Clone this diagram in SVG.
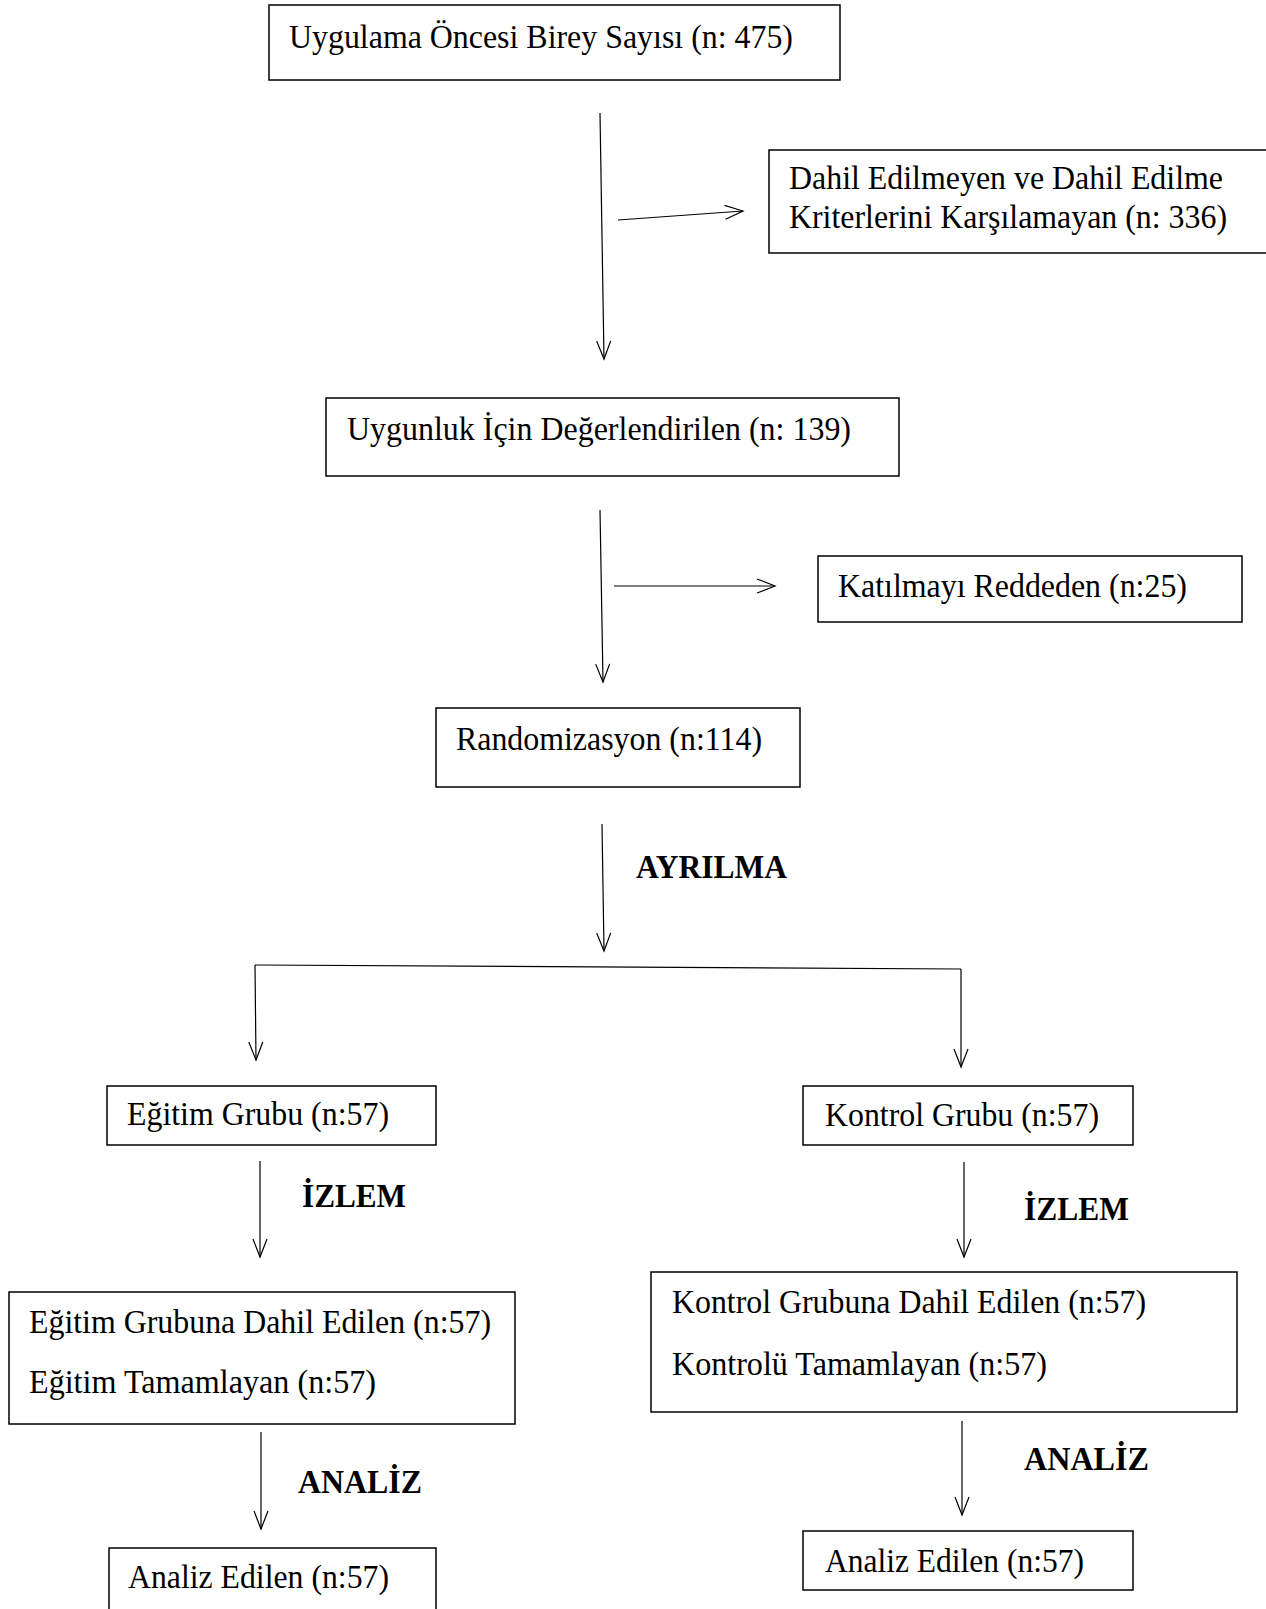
<svg xmlns="http://www.w3.org/2000/svg" width="1266" height="1609" viewBox="0 0 1266 1609">
  <style>
    .box { fill: #fff; stroke: #000; stroke-width: 1.5; }
    .t { font-family: "Liberation Serif", "Times New Roman", serif; font-size: 33px; fill: #000; }
    .b { font-family: "Liberation Serif", "Times New Roman", serif; font-size: 33px; font-weight: bold; fill: #000; }
    .ln { fill: none; stroke: #000; stroke-width: 1.2; }
  </style>
  <defs>
    <!-- open chevron head used on every connector -->
    <marker id="arr" markerUnits="userSpaceOnUse" markerWidth="40" markerHeight="40" refX="0" refY="0" viewBox="-20 -20 40 40" orient="auto" overflow="visible">
      <path d="M -18 -7 L 0 0 L -18 7" fill="none" stroke="#000" stroke-width="1.2"/>
    </marker>
  </defs>

  <rect width="1266" height="1609" fill="#fff"/>

  <!-- connectors and their stage labels -->
  <g id="connectors">
    <line class="ln" x1="600" y1="113" x2="604" y2="359" marker-end="url(#arr)"/>
    <line class="ln" x1="618" y1="220" x2="743" y2="211" marker-end="url(#arr)"/>
    <line class="ln" x1="600" y1="510" x2="603" y2="682" marker-end="url(#arr)"/>
    <line class="ln" x1="614" y1="586" x2="775" y2="586" marker-end="url(#arr)"/>
    <line class="ln" x1="602" y1="824" x2="604" y2="951" marker-end="url(#arr)"/>
    <path class="ln" d="M 255 965 L 961 969"/>
    <line class="ln" x1="255" y1="965" x2="256" y2="1060" marker-end="url(#arr)"/>
    <line class="ln" x1="961" y1="969" x2="961" y2="1067" marker-end="url(#arr)"/>
    <line class="ln" x1="260" y1="1161" x2="260" y2="1257" marker-end="url(#arr)"/>
    <line class="ln" x1="964" y1="1162" x2="964" y2="1257" marker-end="url(#arr)"/>
    <line class="ln" x1="261" y1="1432" x2="261" y2="1529" marker-end="url(#arr)"/>
    <line class="ln" x1="962" y1="1421" x2="962" y2="1515" marker-end="url(#arr)"/>
    <text class="b" x="636" y="878" textLength="151" lengthAdjust="spacingAndGlyphs">AYRILMA</text>
    <text class="b" x="302" y="1207" textLength="104" lengthAdjust="spacingAndGlyphs">İZLEM</text>
    <text class="b" x="1024" y="1220" textLength="105" lengthAdjust="spacingAndGlyphs">İZLEM</text>
    <text class="b" x="298" y="1493" textLength="124" lengthAdjust="spacingAndGlyphs">ANALİZ</text>
    <text class="b" x="1024" y="1470" textLength="125" lengthAdjust="spacingAndGlyphs">ANALİZ</text>
  </g>

  <g id="n-pre">
    <rect class="box" x="269" y="5" width="571" height="75"/>
    <text class="t" x="289" y="48" textLength="504" lengthAdjust="spacingAndGlyphs">Uygulama Öncesi Birey Sayısı (n: 475)</text>
  </g>
  <g id="n-excluded">
    <rect class="box" x="769" y="150" width="500" height="103"/>
    <text class="t" x="789" y="189" textLength="434" lengthAdjust="spacingAndGlyphs">Dahil Edilmeyen ve Dahil Edilme</text>
    <text class="t" x="789" y="228" textLength="438" lengthAdjust="spacingAndGlyphs">Kriterlerini Karşılamayan (n: 336)</text>
  </g>
  <g id="n-eligible">
    <rect class="box" x="326" y="398" width="573" height="78"/>
    <text class="t" x="347" y="440" textLength="504" lengthAdjust="spacingAndGlyphs">Uygunluk İçin Değerlendirilen (n: 139)</text>
  </g>
  <g id="n-declined">
    <rect class="box" x="818" y="556" width="424" height="66"/>
    <text class="t" x="838" y="597" textLength="349" lengthAdjust="spacingAndGlyphs">Katılmayı Reddeden (n:25)</text>
  </g>
  <g id="n-random">
    <rect class="box" x="436" y="708" width="364" height="79"/>
    <text class="t" x="456" y="750" textLength="306" lengthAdjust="spacingAndGlyphs">Randomizasyon (n:114)</text>
  </g>
  <g id="n-edu">
    <rect class="box" x="107" y="1086" width="329" height="59"/>
    <text class="t" x="127" y="1125" textLength="262" lengthAdjust="spacingAndGlyphs">Eğitim Grubu (n:57)</text>
  </g>
  <g id="n-ctrl">
    <rect class="box" x="803" y="1086" width="330" height="59"/>
    <text class="t" x="825" y="1126" textLength="274" lengthAdjust="spacingAndGlyphs">Kontrol Grubu (n:57)</text>
  </g>
  <g id="n-edu-follow">
    <rect class="box" x="9" y="1292" width="506" height="132"/>
    <text class="t" x="29" y="1333" textLength="462" lengthAdjust="spacingAndGlyphs">Eğitim Grubuna Dahil Edilen (n:57)</text>
    <text class="t" x="29" y="1393" textLength="347" lengthAdjust="spacingAndGlyphs">Eğitim Tamamlayan (n:57)</text>
  </g>
  <g id="n-ctrl-follow">
    <rect class="box" x="651" y="1272" width="586" height="140"/>
    <text class="t" x="672" y="1313" textLength="474" lengthAdjust="spacingAndGlyphs">Kontrol Grubuna Dahil Edilen (n:57)</text>
    <text class="t" x="672" y="1375" textLength="375" lengthAdjust="spacingAndGlyphs">Kontrolü Tamamlayan (n:57)</text>
  </g>
  <g id="n-edu-analysis">
    <rect class="box" x="109" y="1548" width="327" height="70"/>
    <text class="t" x="128" y="1588" textLength="261" lengthAdjust="spacingAndGlyphs">Analiz Edilen (n:57)</text>
  </g>
  <g id="n-ctrl-analysis">
    <rect class="box" x="803" y="1531" width="330" height="59"/>
    <text class="t" x="825" y="1572" textLength="259" lengthAdjust="spacingAndGlyphs">Analiz Edilen (n:57)</text>
  </g>
</svg>
